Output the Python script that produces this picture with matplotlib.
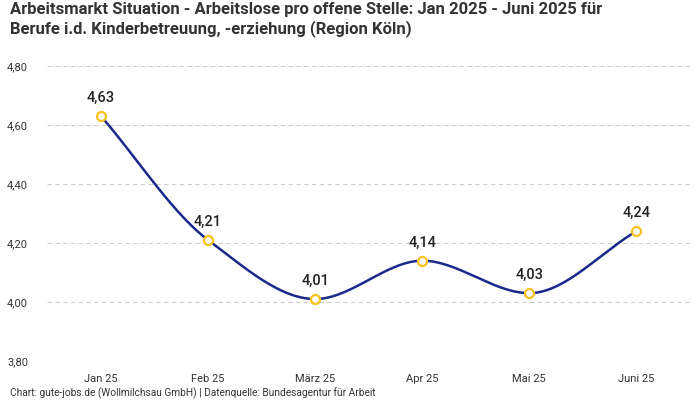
import numpy as np
import matplotlib
matplotlib.use("Agg")
import matplotlib.pyplot as plt

categories = ["Jan 25", "Feb 25", "März 25", "Apr 25", "Mai 25", "Juni 25"]
values = [4.63, 4.21, 4.01, 4.14, 4.03, 4.24]
yticks = [3.80, 4.00, 4.20, 4.40, 4.60, 4.80]

title = ("Arbeitsmarkt Situation - Arbeitslose pro offene Stelle: Jan 2025 - Juni 2025 für\n"
         "Berufe i.d. Kinderbetreuung, -erziehung (Region Köln)")
footer = "Chart: gute-jobs.de (Wollmilchsau GmbH) | Datenquelle: Bundesagentur für Arbeit"


def monotone_cubic(x, y, xs):
    x = np.asarray(x, float); y = np.asarray(y, float)
    h = np.diff(x); d = np.diff(y) / h
    n = len(x)
    m = np.zeros(n)
    m[0] = d[0]; m[-1] = d[-1]
    for i in range(1, n - 1):
        if d[i - 1] * d[i] <= 0:
            m[i] = 0
        else:
            w1 = 2 * h[i] + h[i - 1]; w2 = h[i] + 2 * h[i - 1]
            m[i] = (w1 + w2) / (w1 / d[i - 1] + w2 / d[i])
    out = np.empty_like(xs)
    for j, xv in enumerate(xs):
        i = min(max(np.searchsorted(x, xv) - 1, 0), n - 2)
        t = (xv - x[i]) / h[i]
        h00 = 2 * t**3 - 3 * t**2 + 1
        h10 = t**3 - 2 * t**2 + t
        h01 = -2 * t**3 + 3 * t**2
        h11 = t**3 - t**2
        out[j] = h00 * y[i] + h10 * h[i] * m[i] + h01 * y[i + 1] + h11 * h[i] * m[i + 1]
    return out


fig = plt.figure(figsize=(7, 4), dpi=100)
ax = fig.add_axes([47.5 / 700, 1 - 361 / 400, (690 - 47.5) / 700, (361 - 66) / 400])

x = np.arange(len(values))
xs = np.linspace(0, len(values) - 1, 400)
ax.plot(xs, monotone_cubic(x, values, xs), color="#1a2a8c", lw=1.8, zorder=3)
ax.scatter(x, values, s=42, facecolor="white", edgecolor="#f7c21b", linewidth=1.6, zorder=4)
for xi, v in zip(x, values):
    ax.annotate(f"{v:.2f}".replace(".", ","), (xi, v), xytext=(0, 8), textcoords="offset points",
                ha="center", va="bottom", fontsize=10.5, color="#222222", family="Roboto",
                fontweight="medium")

ax.set_xlim(-0.5, len(values) - 0.5)
ax.set_ylim(3.80, 4.80)
ax.set_yticks(yticks)
ax.set_yticklabels([f"{t:.2f}".replace(".", ",") for t in yticks])
ax.set_xticks(x)
ax.set_xticklabels(categories)
ax.tick_params(length=0, labelsize=8, labelcolor="#333333")
ax.tick_params(axis="y", pad=14)
ax.tick_params(axis="x", pad=9)
for lab in ax.get_xticklabels() + ax.get_yticklabels():
    lab.set_family("Roboto")
ax.grid(axis="y", color="#cccccc", linestyle=(0, (4, 3)), lw=0.8)
ax.set_axisbelow(True)
for s in ax.spines.values():
    s.set_visible(False)

fig.text(10 / 700, 1 - 2 / 400, title, ha="left", va="top", fontsize=12,
         fontweight="bold", family="Roboto", color="#333333", linespacing=1.2)
fig.text(10 / 700, 1 - 393 / 400, footer, ha="left", va="center", fontsize=7.3,
         family="Roboto", color="#333333")

fig.savefig("out.png", dpi=100)
